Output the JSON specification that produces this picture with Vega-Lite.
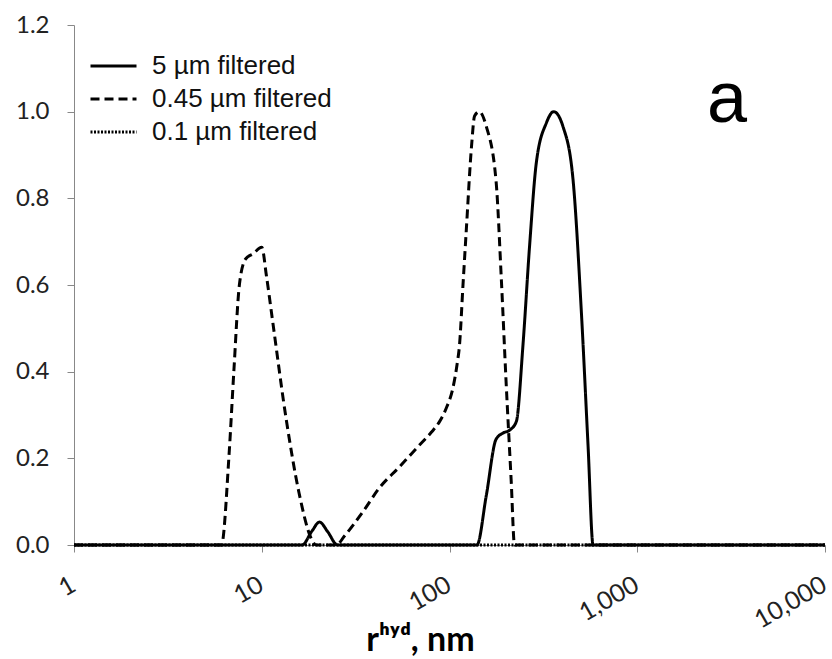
{
  "$schema": "https://vega.github.io/schema/vega-lite/v6.json",
  "width": 751,
  "height": 520,
  "autosize": {"type": "none"},
  "padding": {"left": 74, "top": 25, "right": 7, "bottom": 114},
  "background": "white",
  "title": {
    "text": "a",
    "orient": "top",
    "anchor": "end",
    "frame": "group",
    "offset": 0,
    "dx": -78,
    "dy": 181,
    "baseline": "alphabetic",
    "font": "Liberation Sans",
    "fontSize": 72,
    "fontWeight": "normal",
    "color": "#000000"
  },
  "data": {
    "values": [
      {"series": "0.1 µm filtered", "r": 1, "v": 0},
      {"series": "0.1 µm filtered", "r": 10000, "v": 0},

      {"series": "0.45 µm filtered", "r": 1, "v": 0},
      {"series": "0.45 µm filtered", "r": 6.1, "v": 0},
      {"series": "0.45 µm filtered", "r": 6.7, "v": 0.21},
      {"series": "0.45 µm filtered", "r": 7.1, "v": 0.4},
      {"series": "0.45 µm filtered", "r": 7.6, "v": 0.6},
      {"series": "0.45 µm filtered", "r": 8.2, "v": 0.66},
      {"series": "0.45 µm filtered", "r": 9.0, "v": 0.672},
      {"series": "0.45 µm filtered", "r": 10.0, "v": 0.687},
      {"series": "0.45 µm filtered", "r": 10.6, "v": 0.62},
      {"series": "0.45 µm filtered", "r": 11.4, "v": 0.52},
      {"series": "0.45 µm filtered", "r": 13.5, "v": 0.29},
      {"series": "0.45 µm filtered", "r": 15.8, "v": 0.12},
      {"series": "0.45 µm filtered", "r": 18.4, "v": 0.014},
      {"series": "0.45 µm filtered", "r": 19.5, "v": 0},
      {"series": "0.45 µm filtered", "r": 25, "v": 0},
      {"series": "0.45 µm filtered", "r": 27.5, "v": 0.02},
      {"series": "0.45 µm filtered", "r": 35, "v": 0.08},
      {"series": "0.45 µm filtered", "r": 42, "v": 0.13},
      {"series": "0.45 µm filtered", "r": 54, "v": 0.18},
      {"series": "0.45 µm filtered", "r": 69, "v": 0.23},
      {"series": "0.45 µm filtered", "r": 80, "v": 0.26},
      {"series": "0.45 µm filtered", "r": 88, "v": 0.283},
      {"series": "0.45 µm filtered", "r": 97, "v": 0.32},
      {"series": "0.45 µm filtered", "r": 104, "v": 0.36},
      {"series": "0.45 µm filtered", "r": 110, "v": 0.42},
      {"series": "0.45 µm filtered", "r": 113, "v": 0.46},
      {"series": "0.45 µm filtered", "r": 118, "v": 0.6},
      {"series": "0.45 µm filtered", "r": 123, "v": 0.73},
      {"series": "0.45 µm filtered", "r": 131, "v": 0.92},
      {"series": "0.45 µm filtered", "r": 136, "v": 0.99},
      {"series": "0.45 µm filtered", "r": 144, "v": 1.0},
      {"series": "0.45 µm filtered", "r": 157, "v": 0.966},
      {"series": "0.45 µm filtered", "r": 177, "v": 0.84},
      {"series": "0.45 µm filtered", "r": 189, "v": 0.61},
      {"series": "0.45 µm filtered", "r": 200, "v": 0.38},
      {"series": "0.45 µm filtered", "r": 213, "v": 0.15},
      {"series": "0.45 µm filtered", "r": 222, "v": 0},
      {"series": "0.45 µm filtered", "r": 10000, "v": 0},

      {"series": "5 µm filtered", "r": 1, "v": 0},
      {"series": "5 µm filtered", "r": 16.4, "v": 0},
      {"series": "5 µm filtered", "r": 18.5, "v": 0.032},
      {"series": "5 µm filtered", "r": 20.3, "v": 0.053},
      {"series": "5 µm filtered", "r": 22.5, "v": 0.03},
      {"series": "5 µm filtered", "r": 25.3, "v": 0},
      {"series": "5 µm filtered", "r": 140, "v": 0},
      {"series": "5 µm filtered", "r": 157, "v": 0.114},
      {"series": "5 µm filtered", "r": 177, "v": 0.244},
      {"series": "5 µm filtered", "r": 192, "v": 0.258},
      {"series": "5 µm filtered", "r": 209, "v": 0.265},
      {"series": "5 µm filtered", "r": 227, "v": 0.285},
      {"series": "5 µm filtered", "r": 246, "v": 0.459},
      {"series": "5 µm filtered", "r": 267, "v": 0.69},
      {"series": "5 µm filtered", "r": 290, "v": 0.882},
      {"series": "5 µm filtered", "r": 328, "v": 0.974},
      {"series": "5 µm filtered", "r": 359, "v": 1.0},
      {"series": "5 µm filtered", "r": 402, "v": 0.966},
      {"series": "5 µm filtered", "r": 455, "v": 0.843},
      {"series": "5 µm filtered", "r": 504, "v": 0.537},
      {"series": "5 µm filtered", "r": 547, "v": 0.229},
      {"series": "5 µm filtered", "r": 582, "v": 0},
      {"series": "5 µm filtered", "r": 10000, "v": 0}
    ]
  },
  "mark": {"type": "line", "interpolate": "monotone", "color": "#000000", "strokeCap": "butt"},
  "encoding": {
    "x": {
      "field": "r",
      "type": "quantitative",
      "scale": {"type": "log", "domain": [1, 10000], "nice": false},
      "axis": {
        "values": [1, 10, 100, 1000, 10000],
        "format": ",",
        "labelAngle": -30,
        "labelFont": "Lato",
        "labelFontSize": 25,
        "labelColor": "#222222",
        "labelPadding": 20,
        "labelOffset": -7,
        "tickSize": 7,
        "tickColor": "#888888",
        "domainColor": "#888888",
        "grid": false,
        "title": "rʰʸᵈ, nm",
        "titleFont": "Lato",
        "titleFontSize": 34,
        "titleFontWeight": "bold",
        "titleColor": "#000000",
        "titleX": 346,
        "titleY": 105,
        "titleAlign": "center",
        "titleBaseline": "alphabetic",
        "labelFlush": false,
        "labelOverlap": false
      }
    },
    "y": {
      "field": "v",
      "type": "quantitative",
      "scale": {"domain": [0, 1.2], "nice": false},
      "axis": {
        "values": [0, 0.2, 0.4, 0.6, 0.8, 1.0, 1.2],
        "format": ".1f",
        "labelFont": "Lato",
        "labelFontSize": 24,
        "labelColor": "#222222",
        "labelPadding": 18,
        "tickSize": 7,
        "tickColor": "#888888",
        "domainColor": "#888888",
        "grid": false,
        "title": null,
        "labelFlush": false
      }
    },
    "order": {"field": "r", "type": "quantitative"},
    "strokeDash": {
      "field": "series",
      "type": "nominal",
      "scale": {
        "domain": ["5 µm filtered", "0.45 µm filtered", "0.1 µm filtered"],
        "range": [[1, 0], [9, 5], [2, 1.5]]
      },
      "legend": {
        "orient": "none",
        "legendX": 15,
        "legendY": 28,
        "title": null,
        "symbolType": "stroke",
        "symbolSize": 2116,
        "symbolStrokeColor": "#000000",
        "labelFont": "Liberation Sans",
        "labelFontSize": 26,
        "labelColor": "#111111",
        "labelOffset": 14,
        "labelLimit": 400,
        "clipHeight": 26,
        "rowPadding": 7,
        "padding": 0
      }
    },
    "strokeWidth": {
      "field": "series",
      "type": "nominal",
      "scale": {
        "domain": ["5 µm filtered", "0.45 µm filtered", "0.1 µm filtered"],
        "range": [3, 3, 1.5]
      },
      "legend": null
    }
  },
  "config": {"view": {"stroke": null}}
}
